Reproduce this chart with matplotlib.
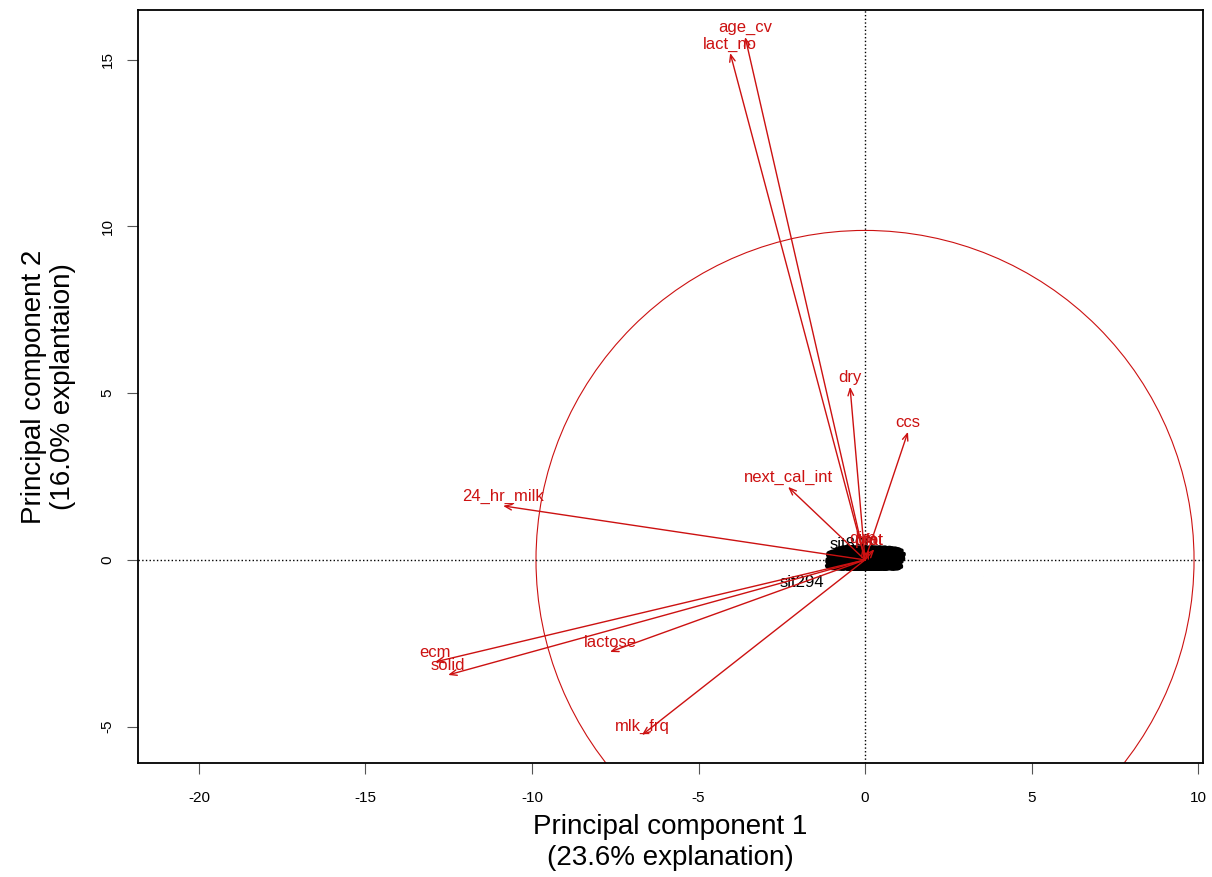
import numpy as np
import matplotlib.pyplot as plt
import matplotlib.patheffects as pe
from matplotlib.patches import Circle

plt.rcParams['font.family'] = ['Liberation Sans', 'DejaVu Sans']
plt.rcParams['axes.unicode_minus'] = False

# variable loadings (arrow tips)
var_names = ['age_cv', 'lact_no', 'dry', 'ccs', 'next_cal_int', '24_hr_milk',
             'ecm', 'solid', 'lactose', 'mlk_frq', 'dim', 'fat', 'prot']
var_pc1 = [-3.60, -4.05, -0.45, 1.29, -2.31, -10.87,
           -12.91, -12.52, -7.66, -6.70, -0.08, 0.28, 0.12]
var_pc2 = [15.68, 15.20, 5.19, 3.84, 2.19, 1.62,
           -3.06, -3.45, -2.76, -5.25, 0.36, 0.32, 0.30]

# observation scores (labels of the black cloud)
obs_ids = [294, 896, 101, 102, 103, 104, 105, 106, 107, 108, 109, 110, 111, 112,
           113, 114, 115, 116, 117, 118, 119, 120, 121, 122, 123, 124, 125,
           126, 127, 128, 129, 130, 131, 132, 133, 134, 135, 136, 137, 138,
           139, 140, 141, 142, 143, 144]
obs_pc1 = [-1.90, -0.39, -0.48, -0.40, -0.32, -0.25, -0.18, -0.10, -0.02, 0.06, 0.14, 0.22, 0.30, 0.38,
           0.46, 0.52, -0.46, -0.37, -0.28, -0.20, -0.12, -0.04, 0.04, 0.12, 0.20, 0.28,
           0.36, 0.44, 0.53, -0.50, -0.42, -0.30, -0.16, -0.06, 0.08, 0.18, 0.32,
           0.42, 0.50, -0.44, -0.22, 0.00, 0.24, 0.45, -0.35, 0.30]
obs_pc2 = [-0.69, 0.47, 0.10, 0.13, 0.15, 0.16, 0.17, 0.16, 0.17, 0.16, 0.15, 0.16, 0.15, 0.14,
           0.12, 0.08, 0.00, 0.02, 0.01, 0.03, 0.02, 0.01, 0.02, 0.01, 0.02, 0.01,
           0.00, 0.01, -0.02, -0.10, -0.12, -0.13, -0.14, -0.13, -0.14, -0.13, -0.14,
           -0.13, -0.11, -0.06, -0.07, -0.08, -0.07, -0.08, 0.06, 0.06]

circle_radius = 9.88
red = '#cc1111'

fig = plt.figure(figsize=(12.12, 8.77), dpi=100)
ax = fig.add_axes([0.1139, 0.130, 0.8787, 0.8586])

for k, (i, x, y) in enumerate(zip(obs_ids, obs_pc1, obs_pc2)):
    t = ax.text(x, y, 'sit' + str(i), fontsize=12, color='black', ha='center', va='center')
    if k >= 2:
        t.set_path_effects([pe.withStroke(linewidth=2.5, foreground='black')])

ax.axhline(0, color='black', linestyle=':', lw=1)
ax.axvline(0, color='black', linestyle=':', lw=1)

ax.add_patch(Circle((0, 0), circle_radius, fill=False, edgecolor=red, lw=0.8))

for name, x, y in zip(var_names, var_pc1, var_pc2):
    ax.annotate('', xy=(x, y), xytext=(0, 0),
                arrowprops=dict(arrowstyle='->,head_length=0.5,head_width=0.2',
                                color=red, lw=1, shrinkA=0, shrinkB=0))
    ax.annotate(name, xy=(x, y), xytext=(0, 6.5), textcoords='offset points',
                fontsize=12, color=red, ha='center', va='center')

ax.set_xlim(-21.83, 10.15)
ax.set_ylim(-6.09, 16.49)
ax.set_xticks(np.arange(-20, 11, 5))
ax.set_yticks(np.arange(-5, 16, 5))
ax.tick_params(axis='both', labelsize=11, length=8, width=0.8, color='#555555')
ax.tick_params(axis='x', pad=12)
ax.tick_params(axis='y', pad=9)
for lab in ax.get_yticklabels():
    lab.set_rotation(90)
    lab.set_va('center')
for sp in ax.spines.values():
    sp.set_linewidth(1.3)

ax.set_xlabel('Principal component 1\n(23.6% explanation)', fontsize=20, linespacing=1.25)
ax.set_ylabel('Principal component 2\n(16.0% explantaion)', fontsize=20, linespacing=1.15)
ax.xaxis.set_label_coords(0.5, -0.068, transform=ax.transAxes)
ax.xaxis.label.set_va('top')
ax.yaxis.set_label_coords(-0.084, 0.5, transform=ax.transAxes)
ax.yaxis.label.set_va('center')

fig.savefig('out.png', dpi=100)
